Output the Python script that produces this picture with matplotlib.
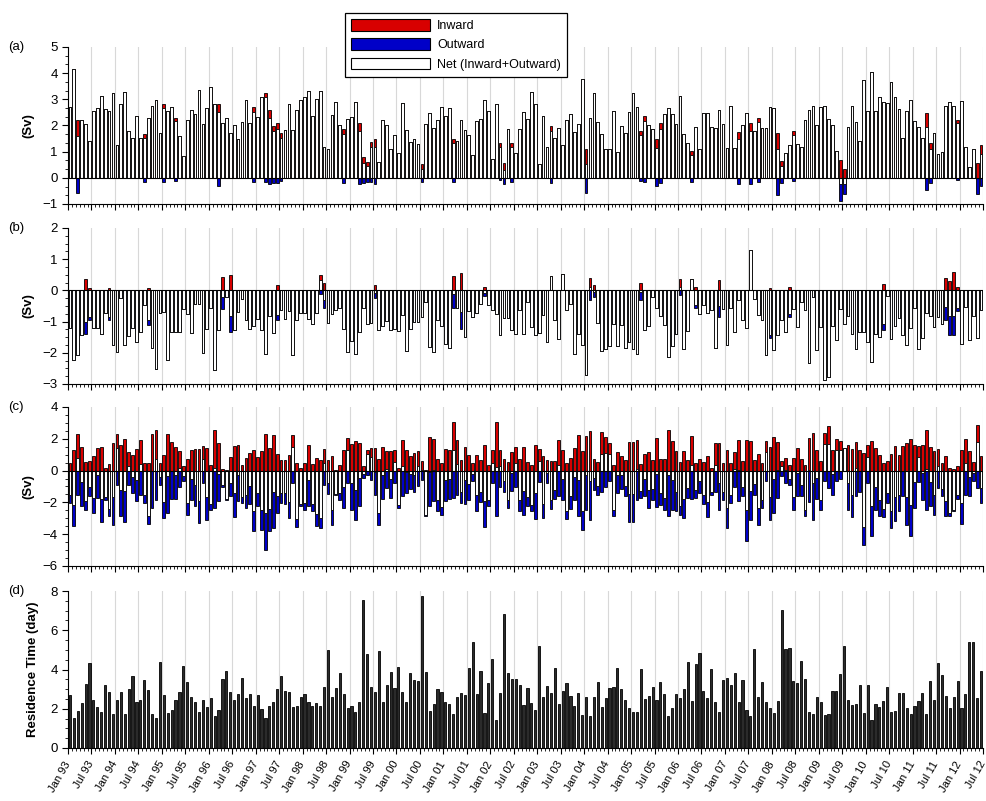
import matplotlib.pyplot as plt
import numpy as np
from matplotlib.ticker import AutoMinorLocator, MultipleLocator
from matplotlib.patches import Patch

plt.rcParams['font.family'] = ['Liberation Sans', 'DejaVu Sans']

# monthly values, Jan 1993 .. Jun 2012 (234 months)

# (a) net transport (Sv)
a_net = [
    2.72, 4.17, 1.6, 2.2, 2.05, 1.41, 2.56, 2.65, 3.14, 2.63,
    2.56, 3.24, 1.27, 2.82, 3.29, 1.79, 1.54, 2.37, 1.54, 1.51,
    2.28, 2.76, 2.99, 1.7, 2.65, 2.56, 2.69, 2.18, 1.58, 0.83,
    2.2, 2.6, 2.44, 3.37, 2.05, 2.65, 3.46, 2.82, 2.5, 2.09,
    2.27, 1.7, 2.01, 1.47, 2.14, 2.97, 2.09, 2.53, 2.31, 3.08,
    3.08, 2.27, 1.79, 1.86, 1.54, 1.83, 2.82, 1.83, 2.59, 2.97,
    3.08, 3.33, 2.35, 3.01, 3.33, 1.19, 1.09, 2.4, 2.88, 2.01,
    1.69, 2.24, 2.31, 2.88, 1.79, 0.58, 0.45, 1.19, 1.19, 0.6,
    2.22, 2.03, 1.09, 1.63, 0.96, 2.86, 1.82, 1.37, 1.47, 1.31,
    0.32, 2.05, 2.47, 1.92, 2.22, 2.69, 2.35, 2.65, 1.32, 1.41,
    2.2, 1.83, 1.63, 0.86, 2.18, 2.24, 2.97, 2.56, 0.71, 2.82,
    1.19, 0.29, 1.86, 1.19, 0.96, 1.86, 2.5, 2.24, 3.29, 2.82,
    0.51, 2.37, 1.19, 1.79, 1.54, 1.92, 1.24, 2.22, 2.44, 1.76,
    2.05, 3.78, 0.51, 2.27, 3.24, 2.14, 1.67, 1.09, 1.09, 2.56,
    0.99, 1.99, 1.73, 2.53, 3.24, 2.69, 1.63, 2.18, 2.01, 1.86,
    1.15, 1.88, 2.44, 2.65, 2.44, 2.05, 3.14, 1.69, 1.35, 0.86,
    1.96, 1.09, 2.47, 2.47, 1.96, 1.92, 2.6, 2.05, 1.15, 2.76,
    1.15, 1.47, 2.01, 2.47, 1.79, 1.79, 2.12, 1.92, 1.92, 2.69,
    2.65, 1.09, 0.45, 0.96, 1.24, 1.64, 1.31, 1.19, 2.2, 2.6,
    2.73, 2.01, 2.69, 2.76, 2.24, 2.01, 1.03, -0.22, -0.22, 1.96,
    2.73, 2.14, 1.41, 3.72, 2.56, 4.06, 2.56, 3.08, 2.88, 2.86,
    3.65, 3.08, 2.63, 1.54, 2.56, 2.97, 2.18, 1.96, 1.54, 1.96,
    1.09, 1.73, 0.9, 0.99, 2.73, 2.88, 2.73, 2.08, 2.95, 1.19,
    0.42, 1.09, -0.02, 0.9]
# (a) months where inward / outward differ visibly from net
a_idx = [2, 19, 24, 27, 38, 47, 50, 51, 52, 53, 54, 70, 74, 75, 76, 77, 78,
         90, 98, 110, 111, 113, 123, 132, 146, 147, 150, 151, 159, 171, 174,
         176, 181, 182, 185, 197, 198, 219, 220, 227, 232, 233]
a_in = [2.2, 1.67, 2.82, 2.3, 2.82, 2.69, 3.24, 2.59, 1.99, 2.08, 1.7, 1.88,
        2.08, 0.81, 0.6, 1.37, 1.47, 0.51, 1.5, 1.32, 0.55, 1.35, 1.99, 1.09,
        1.79, 2.37, 1.5, 2.09, 1.03, 1.76, 2.09, 2.28, 1.73, 0.64, 1.79, 0.68,
        0.35, 2.46, 1.35, 2.22, 0.58, 1.24]
a_out = [-0.58, -0.15, -0.15, -0.12, -0.32, -0.15, -0.15, -0.25, -0.2, -0.2,
         -0.12, -0.2, -0.25, -0.2, -0.15, -0.15, -0.25, -0.15, -0.15, -0.1,
         -0.25, -0.15, -0.2, -0.58, -0.12, -0.15, -0.3, -0.2, -0.15, -0.22,
         -0.25, -0.15, -0.64, -0.2, -0.12, -0.9, -0.6, -0.45, -0.2, -0.1,
         -0.6, -0.32]

# (b) net transport (Sv)
b_net = [
    -1.2, -2.22, -2.08, -1.44, -1.0, -0.85, -1.2, -1.2, -1.39, -0.73,
    -0.85, -1.76, -1.96, -0.23, -1.76, -1.47, -1.2, -1.66, -1.34, -0.48,
    -0.96, -1.85, -2.51, -0.73, -0.69, -2.22, -1.34, -1.34, -1.34, -0.59,
    -0.77, -1.37, -0.43, -0.43, -2.0, -1.23, -0.57, -2.56, -1.28, -0.2,
    -0.21, -0.82, -1.28, -0.69, -0.27, -0.94, -1.23, -1.15, -0.93, -1.28,
    -2.05, -0.83, -1.37, -0.8, -0.64, -0.91, -0.66, -2.06, -0.96, -0.73,
    -0.73, -0.91, -1.07, -0.73, 0.32, -0.32, -1.04, -0.75, -0.64, -0.56,
    -1.23, -1.96, -1.63, -2.03, -1.34, -0.56, -1.09, -1.05, -0.08, -1.28,
    -1.15, -0.98, -1.28, -1.23, -1.3, -0.8, -1.94, -1.23, -1.01, -1.01,
    -0.85, -0.37, -1.82, -1.98, -0.96, -1.15, -1.71, -1.85, -0.1, -0.56,
    -0.69, -1.5, -0.66, -0.85, -0.73, -0.45, -0.09, -0.48, -0.64, -0.75,
    -1.44, -0.88, -0.88, -1.28, -1.39, -0.62, -1.39, -0.37, -1.18, -1.44,
    -1.37, -0.8, -1.66, 0.45, -0.96, -1.55, 0.51, -0.64, -0.45, -2.05,
    -1.39, -1.76, -2.72, 0.1, -0.05, -1.05, -1.94, -1.87, -1.79, -1.07,
    -1.79, -1.12, -1.84, -1.66, -1.87, -2.03, -0.06, -1.28, -1.15, -0.21,
    -0.56, -0.83, -1.12, -2.12, -1.79, -1.39, 0.1, -1.87, -1.3, 0.37,
    -0.48, -0.75, -0.48, -0.73, -0.64, -1.84, -0.51, -0.59, -1.76, -0.56,
    -1.34, -0.3, -0.96, -1.2, 1.3, -0.27, -0.8, -0.96, -2.08, -1.44,
    -1.92, -1.44, -0.94, -1.34, -0.75, -0.59, -1.18, -0.37, -0.62, -2.33,
    -0.21, -1.92, -1.18, -2.88, -2.76, -1.15, -1.6, -0.59, -1.09, -0.83,
    -1.39, -1.87, -1.34, -1.34, -1.66, -2.3, -1.39, -1.5, -1.07, -0.19,
    -1.55, -1.15, -0.88, -1.44, -1.76, -1.2, -0.56, -1.87, -1.52, -0.73,
    -0.83, -1.18, -0.85, -1.09, -0.53, -0.83, -0.83, -0.56, -1.71, -0.53,
    -1.58, -0.83, -1.52, -0.64]
b_idx = [4, 5, 10, 20, 39, 41, 53, 64, 65, 78, 98, 100, 106, 133, 134, 146,
         156, 160, 166, 179, 184, 208, 224, 225, 226, 227]
b_in = [0.35, 0.07, 0.07, 0.07, 0.43, 0.5, 0.16, 0.5, 0.24, 0.16, 0.45, 0.56,
        0.1, 0.4, 0.16, 0.24, 0.37, 0.1, 0.32, 0.09, 0.1, 0.21, 0.4, 0.29,
        0.59, 0.1]
b_out = [-1.39, -0.94, -0.96, -1.12, -0.59, -1.34, -0.96, -0.13, -0.56, -0.24,
         -0.56, -1.23, -0.19, -0.3, -0.21, -0.3, -0.16, -0.58, -0.85, -1.53,
         -0.85, -1.28, -0.96, -1.44, -1.44, -0.66]

# (c) inward and outward transport (Sv)
c_in = [
    0.48, 1.32, 2.33, 1.49, 0.55, 0.59, 0.94, 1.43, 1.49, 0.17,
    0.44, 1.74, 2.33, 1.64, 1.99, 1.15, 1.0, 1.36, 1.95, 0.48,
    0.48, 2.33, 2.54, 0.48, 1.0, 2.33, 1.78, 1.49, 1.22, 0.31,
    0.73, 1.32, 1.36, 1.36, 1.53, 1.43, 0.38, 2.54, 1.74, 0.1,
    0.06, 0.86, 1.53, 1.64, 0.38, 0.8, 1.11, 1.28, 0.86, 1.22,
    2.33, 1.43, 2.26, 1.07, 0.65, 0.65, 1.0, 2.26, 0.48, 0.17,
    0.48, 1.64, 0.44, 0.8, 0.65, 1.36, 0.65, 0.94, 0.06, 0.38,
    1.32, 2.05, 1.7, 1.84, 1.74, 0.27, 1.32, 1.43, 1.43, 0.73,
    1.49, 1.22, 1.22, 1.32, 0.17, 1.91, 1.32, 0.94, 1.11, 1.22,
    0.59, 0.02, 2.12, 1.99, 0.73, 0.48, 1.36, 1.28, 3.04, 1.91,
    0.69, 1.49, 1.0, 0.48, 1.0, 0.65, 1.64, 0.38, 1.28, 3.04,
    1.32, 0.73, 0.52, 1.15, 1.49, 0.73, 1.49, 0.52, 0.38, 1.64,
    1.36, 0.9, 0.65, 0.59, 0.59, 1.95, 1.28, 0.48, 0.8, 1.43,
    2.26, 1.22, 2.2, 2.47, 0.73, 0.52, 2.41, 2.12, 1.74, 0.38,
    1.15, 0.9, 0.65, 1.78, 1.78, 1.91, 0.44, 1.07, 1.15, 0.69,
    2.05, 0.73, 0.73, 2.54, 1.84, 1.22, 0.52, 1.22, 0.65, 2.16,
    0.48, 0.73, 0.52, 0.94, 0.17, 1.74, 1.74, 0.48, 1.28, 0.48,
    1.15, 1.95, 0.59, 1.95, 1.84, 0.69, 1.07, 0.48, 1.84, 1.49,
    2.12, 1.78, 0.59, 0.8, 0.38, 0.8, 1.43, 0.73, 0.38, 2.05,
    2.37, 1.32, 0.59, 2.37, 2.79, 1.28, 1.99, 1.84, 1.43, 1.64,
    1.36, 1.78, 1.32, 1.11, 1.64, 1.84, 1.43, 1.0, 0.48, 0.59,
    1.07, 1.53, 1.0, 1.57, 1.74, 1.99, 1.64, 1.57, 1.64, 2.54,
    1.49, 1.22, 1.36, 0.48, 0.94, 0.17, 0.1, 0.27, 1.32, 1.99,
    1.22, 0.52, 2.89, 0.94]
c_out = [
    -2.03, -3.46, -1.51, -2.2, -2.45, -1.61, -2.66, -1.72, -3.25, -1.82,
    -2.87, -3.4, -0.88, -2.87, -3.25, -0.88, -1.4, -1.93, -1.51, -2.03,
    -3.33, -2.35, -1.82, -0.88, -2.98, -2.66, -1.78, -1.78, -1.03, -0.67,
    -2.77, -1.82, -2.24, -3.29, -0.78, -3.08, -2.45, -2.35, -1.93, -1.03,
    -1.82, -1.61, -2.91, -1.93, -2.03, -2.35, -2.08, -3.82, -2.24, -3.71,
    -5.01, -3.82, -3.61, -2.66, -2.03, -2.08, -2.98, -0.78, -3.54, -2.24,
    -2.49, -2.24, -2.56, -3.5, -3.61, -0.88, -1.45, -3.4, -1.51, -1.82,
    -2.35, -0.78, -2.45, -3.08, -2.2, -0.46, -0.25, -0.57, -1.51, -3.4,
    -1.78, -1.09, -1.72, -0.78, -2.35, -1.6, -1.4, -1.15, -1.36, -0.94,
    -0.57, -2.83, -2.2, -1.93, -2.56, -2.77, -1.93, -1.78, -1.72, -1.51,
    -2.03, -2.08, -1.82, -0.67, -2.56, -1.99, -3.54, -2.2, -0.78, -2.83,
    -1.03, -1.36, -2.35, -1.3, -1.03, -2.56, -2.77, -2.2, -2.56, -3.04,
    -0.73, -2.98, -0.78, -2.41, -1.78, -1.57, -1.82, -3.04, -2.41, -1.82,
    -2.87, -3.75, -2.45, -3.12, -1.2, -1.51, -1.36, -1.03, -0.67, -2.83,
    -1.4, -1.15, -1.61, -3.25, -3.25, -1.82, -1.72, -1.57, -2.35, -1.82,
    -2.29, -2.14, -2.45, -2.83, -2.45, -2.56, -2.77, -3.0, -1.72, -1.78,
    -1.72, -1.4, -2.08, -2.91, -1.51, -1.36, -2.49, -1.82, -3.61, -2.03,
    -1.03, -1.93, -1.61, -4.44, -3.12, -1.51, -3.4, -2.35, -0.67, -3.12,
    -2.66, -1.72, -0.31, -0.78, -0.88, -2.45, -1.61, -1.61, -2.83, -1.99,
    -3.12, -1.78, -2.45, -0.67, -1.09, -1.51, -0.67, -0.52, -0.04, -2.45,
    -2.91, -1.61, -1.36, -4.65, -0.78, -4.09, -2.45, -2.87, -2.91, -2.03,
    -3.61, -3.19, -2.56, -1.61, -3.4, -4.13, -2.35, -0.73, -1.82, -2.45,
    -2.2, -2.77, -1.09, -1.61, -2.87, -2.83, -2.56, -1.78, -3.33, -1.51,
    -1.61, -0.67, -1.09, -2.03]

# (d) residence time (day)
d_res = [
    2.7, 1.55, 1.88, 2.31, 3.26, 4.31, 2.44, 2.11, 1.85, 3.21,
    2.87, 1.71, 2.44, 2.84, 1.71, 2.99, 3.67, 2.33, 2.44, 3.46,
    2.95, 1.71, 1.55, 4.4, 2.7, 1.77, 1.94, 2.44, 2.84, 4.19,
    3.34, 2.61, 2.33, 1.82, 2.44, 2.11, 2.53, 1.63, 1.94, 3.51,
    3.94, 2.84, 2.44, 2.73, 3.58, 2.53, 2.75, 2.16, 2.7, 1.99,
    1.51, 2.16, 2.36, 2.99, 3.67, 2.9, 2.87, 2.11, 2.16, 2.58,
    2.75, 2.33, 2.16, 2.28, 2.16, 3.12, 4.99, 2.58, 3.04, 3.8,
    2.73, 2.02, 2.16, 1.82, 2.36, 7.54, 4.77, 3.09, 2.87, 4.94,
    2.36, 3.21, 3.85, 3.04, 4.14, 2.87, 2.33, 3.8, 3.46, 3.41,
    7.76, 3.89, 1.88, 2.22, 2.99, 2.84, 2.33, 2.22, 1.71, 2.61,
    2.78, 2.7, 4.09, 5.42, 2.73, 3.92, 1.8, 3.33, 4.53, 1.43,
    2.82, 6.81, 3.8, 3.5, 3.5, 3.21, 2.19, 3.04, 2.28, 1.94,
    5.21, 2.61, 3.17, 2.82, 4.06, 2.24, 2.9, 3.29, 2.67, 2.16,
    2.82, 1.68, 2.61, 1.63, 2.61, 3.34, 2.11, 2.56, 3.04, 3.12,
    4.09, 2.99, 2.44, 2.02, 1.82, 1.85, 4.01, 2.5, 2.67, 3.12,
    2.44, 3.34, 2.75, 1.65, 2.02, 2.75, 2.53, 3.01, 4.4, 2.41,
    4.28, 4.82, 2.9, 2.53, 4.01, 2.33, 1.82, 3.46, 3.55, 3.21,
    3.8, 2.36, 3.46, 1.94, 1.65, 5.04, 2.61, 3.34, 2.33, 2.05,
    1.8, 2.41, 7.03, 5.04, 5.11, 3.41, 3.29, 4.45, 3.5, 1.85,
    1.71, 2.61, 2.33, 1.68, 1.71, 2.9, 2.9, 3.75, 5.21, 2.44,
    2.19, 2.22, 3.21, 1.8, 3.21, 1.43, 2.22, 2.11, 2.39, 3.12,
    1.82, 1.88, 2.82, 2.82, 2.02, 1.71, 2.16, 2.41, 2.78, 1.71,
    3.41, 2.44, 4.35, 3.72, 2.67, 2.05, 2.61, 3.41, 2.05, 2.73,
    5.38, 5.42, 2.53, 3.94]

tick_years = list(range(1993, 2013))
tick_months = ['Jan', 'Jul']

RED = '#d80000'
BLUE = '#0000c8'
W = 0.7

N = len(a_net)
assert all(len(s) == N for s in (b_net, c_in, c_out, d_res))
x = np.arange(N) + 0.5


def full_flux(net, idx, vin, vout):
    # where no split is visible the net bar covers the flux bars
    net = np.asarray(net)
    inward = np.where(net > 0, net, 0.0)
    outward = np.where(net < 0, net, 0.0)
    inward[idx] = vin
    outward[idx] = vout
    return inward, outward


def style_axis(ax, ylim, major, nminor, labels=False):
    ax.set_xlim(0, N)
    ax.set_ylim(*ylim)
    ax.xaxis.set_major_locator(MultipleLocator(6))
    ax.xaxis.set_minor_locator(MultipleLocator(1))
    ax.yaxis.set_major_locator(MultipleLocator(major))
    ax.yaxis.set_minor_locator(AutoMinorLocator(nminor))
    ax.grid(axis='x', which='major', color='#d8d8d8', lw=0.8)
    ax.set_axisbelow(True)
    for s in ('top', 'right'):
        ax.spines[s].set_visible(False)
    ax.tick_params(axis='both', which='major', length=4, width=0.8, labelsize=9.5)
    ax.tick_params(axis='both', which='minor', length=2.2, width=0.6)
    if labels:
        lab = ['%s %02d' % (m, y % 100) for y in tick_years for m in tick_months]
        ax.set_xticks(np.arange(0, N + 1, 6))
        ax.set_xticklabels(lab, rotation=60, ha='right', va='center',
                           rotation_mode='anchor', fontsize=8)
    else:
        ax.set_xticklabels([])


def draw_flux(ax, inward, outward, net):
    kw = dict(width=W, edgecolor='black', linewidth=0.6)
    ax.bar(x, inward, color=RED, zorder=2, **kw)
    ax.bar(x, outward, color=BLUE, zorder=2, **kw)
    ax.bar(x, net, color='white', zorder=3, **kw)
    ax.axhline(0, color='black', lw=0.8, zorder=4)


fig = plt.figure(figsize=(9.87, 8.01), dpi=100)
L, Wd = 68 / 987, 915 / 987
ax_a = fig.add_axes([L, 1 - 204 / 801, Wd, 157 / 801])
ax_b = fig.add_axes([L, 1 - 384 / 801, Wd, 156 / 801])
ax_c = fig.add_axes([L, 1 - 566 / 801, Wd, 159 / 801])
ax_d = fig.add_axes([L, 1 - 748 / 801, Wd, 157 / 801])

a_inw, a_outw = full_flux(a_net, a_idx, a_in, a_out)
draw_flux(ax_a, a_inw, a_outw, a_net)
style_axis(ax_a, (-1, 5), 1, 3)

b_inw, b_outw = full_flux(b_net, b_idx, b_in, b_out)
draw_flux(ax_b, b_inw, b_outw, b_net)
style_axis(ax_b, (-3, 2), 1, 4)

c_net = np.array(c_in) + np.array(c_out)
draw_flux(ax_c, c_in, c_out, c_net)
style_axis(ax_c, (-6, 4), 2, 4)

ax_d.bar(x, d_res, width=0.55, color='#2b2b2b', edgecolor='black',
         linewidth=0.6, zorder=2)
style_axis(ax_d, (0, 8), 2, 4, labels=True)
ax_d.tick_params(axis='x', which='major', pad=6)

for ax in (ax_a, ax_b, ax_c):
    ax.set_ylabel('(Sv)', fontweight='bold', fontsize=9.5, labelpad=6)
ax_d.set_ylabel('Residence Time (day)', fontweight='bold', fontsize=9.5,
                labelpad=8)

for lab, ytop in zip(['(a)', '(b)', '(c)', '(d)'], [47, 228, 407, 591]):
    fig.text(0.008, 1 - ytop / 801, lab, fontsize=9.5, va='center', ha='left')

handles = [Patch(facecolor=RED, edgecolor='black', lw=0.8),
           Patch(facecolor=BLUE, edgecolor='black', lw=0.8),
           Patch(facecolor='white', edgecolor='black', lw=0.8)]
leg = fig.legend(handles, ['Inward', 'Outward', 'Net (Inward+Outward)'],
                 loc='upper center', bbox_to_anchor=(0.462, 0.992),
                 fontsize=9, handlelength=6.3, handleheight=1.05,
                 labelspacing=0.5, borderpad=0.5, handletextpad=0.6,
                 fancybox=False, framealpha=1, edgecolor='black')
leg.get_frame().set_linewidth(0.9)

fig.savefig('out.png', dpi=100)
